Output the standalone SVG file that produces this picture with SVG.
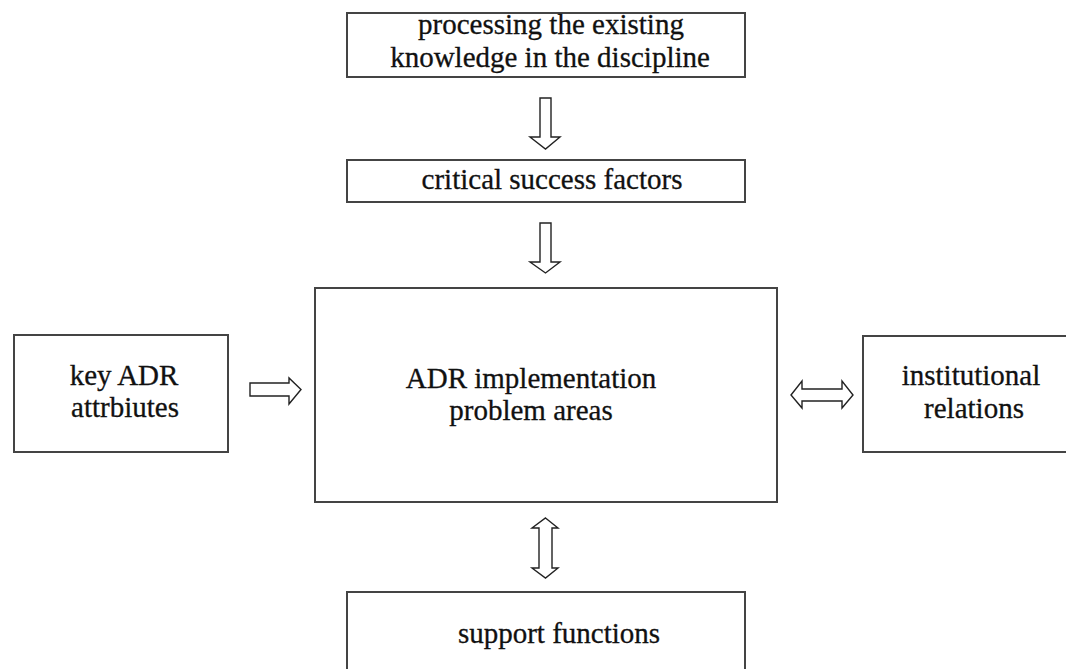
<svg xmlns="http://www.w3.org/2000/svg" width="1066" height="669" viewBox="0 0 1066 669">
<style>
.box{fill:#fff;stroke:#444;stroke-width:2}
.arr{fill:#fff;stroke:#222;stroke-width:1.4;stroke-linejoin:miter}
text{font-family:'Liberation Serif',serif;font-size:29px;fill:#111;stroke:#111;stroke-width:0.3;text-anchor:middle}
</style>
<rect width="1066" height="669" fill="#fff"/>
<g id="node-processing">
<rect class="box" x="347" y="13" width="398" height="64"/>
<text x="551" y="34">processing the existing</text>
<text x="550" y="67">knowledge in the discipline</text>
</g>
<g id="node-csf">
<rect class="box" x="347" y="160" width="398" height="42"/>
<text x="552" y="189">critical success factors</text>
</g>
<g id="node-main">
<rect class="box" x="315" y="288" width="462" height="214"/>
<text x="531" y="388">ADR implementation</text>
<text x="531" y="420">problem areas</text>
</g>
<g id="node-key">
<rect class="box" x="14" y="335" width="214" height="117"/>
<text x="124" y="385">key ADR</text>
<text x="125" y="417">attrbiutes</text>
</g>
<g id="node-inst">
<rect class="box" x="863" y="336" width="210" height="116"/>
<text x="971" y="385">institutional</text>
<text x="974" y="418">relations</text>
</g>
<g id="node-support">
<rect class="box" x="347" y="592" width="398" height="90"/>
<text x="559" y="643">support functions</text>
</g>
<g id="connectors">
<path class="arr" d="M540,98 H551 V137 H560 L545.5,149 L530,137 H540 Z"/>
<path class="arr" d="M540,223 H551 V262 H560 L545.5,273 L530,262 H540 Z"/>
<path class="arr" d="M250,383 H289 V378 L301,389.5 L289,404 V396 H250 Z"/>
<path class="arr" d="M791,395 L802,381 V389 H842 V381 L853,395 L842,408 V401 H802 V408 Z"/>
<path class="arr" d="M545.5,518 L558,528 H552 V568 H558 L545.5,578 L532,568 H539 V528 H532 Z"/>
</g>
</svg>
